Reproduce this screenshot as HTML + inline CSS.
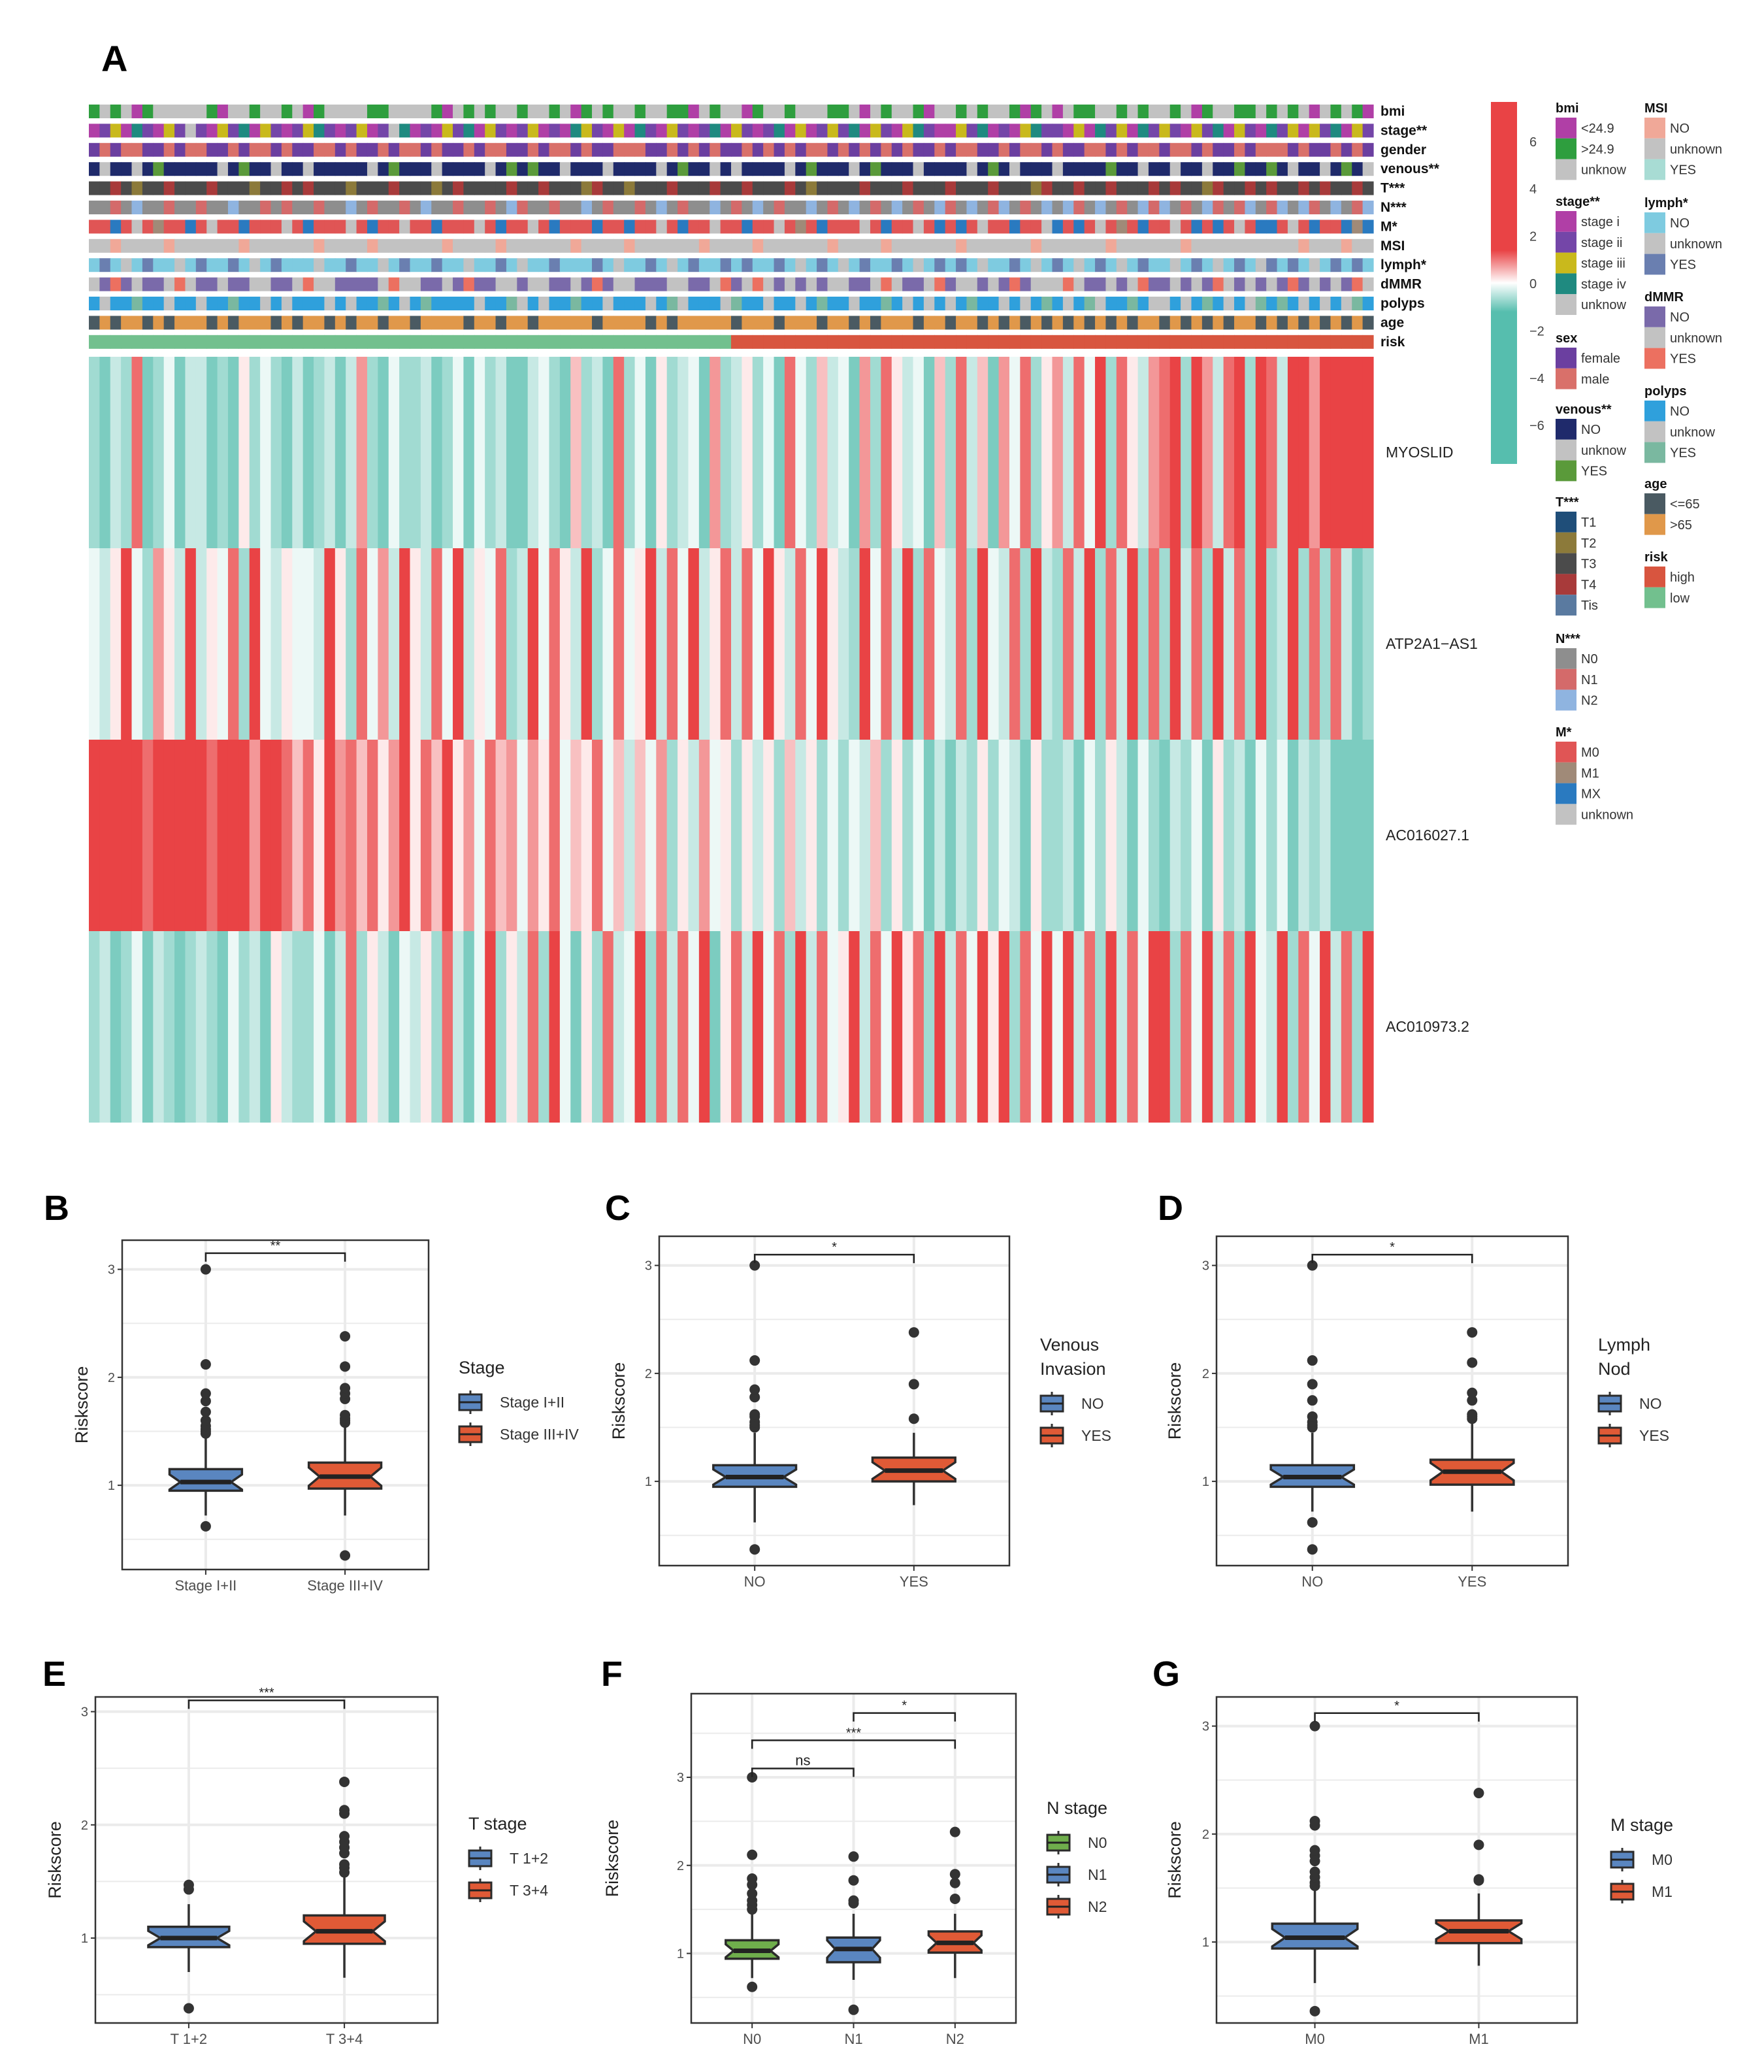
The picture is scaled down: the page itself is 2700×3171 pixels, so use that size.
<!DOCTYPE html>
<html><head><meta charset="utf-8"><title>Risk heatmap and boxplots</title>
<style>
html,body{margin:0;padding:0;background:#fff;}
svg{display:block;font-family:"Liberation Sans",Arial,sans-serif;}
</style></head>
<body>
<svg id="fig" xmlns="http://www.w3.org/2000/svg" width="2700" height="3171" viewBox="0 0 2700 3171">
<rect x="0" y="0" width="2700" height="3171" fill="#fff"/>
<text x="155" y="109" font-size="56" font-weight="bold">A</text>
<g id="heat"></g>
<g id="legend"></g>
<g id="boxes"></g>
</svg>
<script>
// ===== Heatmap data =====
const geneNames = ["MYOSLID","ATP2A1\u2212AS1","AC016027.1","AC010973.2"];
const geneMYOSLID = "2132812413"+"3121524213"+"1231372142"+"2312414231"+"1342162318"+"2415234172"+"3524184263"+"4172853416"+"2836174825"+"7384928537"+"8929738929"+"8399799999";
const geneATP2A1 = "4359427539"+"3548294354"+"4395284739"+"5384935482"+"3948539248"+"4593849358"+"3849538495"+"3294839284"+"3829438293"+"2839283928"+"2938293829"+"2392828312";
const geneAC016027 = "9999989999"+"9899979986"+"8597868579"+"5869574867"+"4758465846"+"3647253745"+"2535263524"+"2436252413"+"1325243152"+"2314253142"+"1324152314"+"2413231111";
const geneAC010973 = "2312413212"+"3214231532"+"2413825314"+"3528314925"+"3829415283"+"4928384915"+"8394829384"+"5938495829"+"3849592849"+"4938293849"+"9284938294"+"3928493829";
const annotNames = ["bmi","stage**","gender","venous**","T***","N***","M*","MSI","lymph*","dMMR","polyps","age","risk"];
const annBmi = "1212012222"+"2102212212"+"0122221122"+"2210212122"+"1221201212"+"2122110212"+"2012212221"+"1202122102"+"2121221012"+"0211221212"+"2120122112"+"1212021210";
const annStage = "0120310214"+"1021302101"+"2310120143"+"0102130210"+"1201032102"+"0310210130"+"2101302012"+"1302102310"+"0213010231"+"1020312031"+"2102130210"+"3120213021";
const annGender = "0101100101"+"1001011010"+"0110100101"+"1010010110"+"0101101001"+"1100101010"+"0101010110"+"1010101001"+"0110010110"+"1001101011"+"0110100101"+"1101001010";
const annVenous = "0100102000"+"0010200100"+"1000001020"+"0010000102"+"0200100010"+"0001020010"+"1000010200"+"0102000100"+"0010201000"+"1000020010"+"0100100200"+"2010010201";
const annT = "2232122322"+"2322212232"+"3222122232"+"2212322223"+"2232221322"+"1222322232"+"2322232122"+"2232223222"+"3222322213"+"2232232223"+"2322132232"+"3223232232";
const annN = "0010200100"+"1002001010"+"0100201001"+"0200100102"+"1001002010"+"0102010020"+"1020100201"+"0201020102"+"1020120102"+"0210201021"+"2010210120"+"1202102012";
const annM = "0020301002"+"0300200030"+"2000302003"+"0020003020"+"0302000200"+"2003020030"+"0200301020"+"0030200302"+"0203002003"+"2020301020"+"0302020302"+"2030200212";
const annMSI = "1101111011"+"1111011111"+"1011110111"+"1110111101"+"1111101111"+"0111111011"+"1101111110"+"1111011111"+"1011111101"+"1111101111"+"1101111111"+"1110111011";
const annLymph = "0201020010"+"2002010200"+"0100200102"+"0020010020"+"1002000201"+"0020102002"+"0200201020"+"1020020102"+"0201002010"+"2010201020"+"0102010201"+"2020102020";
const annDMMR = "1020100121"+"0010011001"+"2110000121"+"1001020011"+"0110010201"+"1000110012"+"0121010101"+"1001210012"+"0110102011"+"1210010120"+"0101021010"+"1020101021";
const annPolyps = "0100200100"+"1002001010"+"0010100201"+"0200001002"+"1010020010"+"0010210001"+"2001001020"+"0100201010"+"1020010102"+"0102100201"+"1010201012"+"0201010120";
const annAge = "0101101011"+"1010111010"+"1101011011"+"0111101101"+"1011111011"+"1101011111"+"0111011101"+"1010111011"+"0110101010"+"1010101011"+"0101010110"+"1010101010";
const annRisk = "1111111111"+"1111111111"+"1111111111"+"1111111111"+"1111111111"+"1111111111"+"0000000000"+"0000000000"+"0000000000"+"0000000000"+"0000000000"+"0000000000";
const colBmi=["#b03fa6","#2e9e3e","#c2c2c2"];
const colStage=["#b03fa6","#7446a8","#c9b91c","#1f8a80","#c2c2c2"];
const colSex=["#6b3fa0","#d9706a"];
const colVenous=["#1f2a6b","#c2c2c2","#5a9a3a"];
const colT=["#1f4e79","#8c7a3a","#4b4b4b","#a83a3a","#5a7aa0"];
const colN=["#8e8e8e","#d46a6a","#8fb4e0"];
const colM=["#e05555","#a08a78","#2a7ac0","#c2c2c2"];
const colMSI=["#f0a898","#c2c2c2","#a8dcd4"];
const colLymph=["#7ecbe0","#c2c2c2","#6a7fb0"];
const colDMMR=["#7a6aaa","#c2c2c2","#ec7060"];
const colPolyps=["#2fa0dc","#c2c2c2","#7ab8a0"];
const colAge=["#4a5a62","#e0984a"];
const colRisk=["#d8553f","#72c08e"];
const colorbarTicks=[6,4,2,0,-2,-4,-6];

const NS="http://www.w3.org/2000/svg";
function mk(tag,attrs,parent){const e=document.createElementNS(NS,tag);for(const k in attrs)e.setAttribute(k,attrs[k]);parent.appendChild(e);return e;}
function lerp(a,b,t){return Math.round(a+(b-a)*t);}
function heatColor(v){ // v in -4.5..4.5
  const red=[233,67,69], teal=[86,190,174], white=[255,255,255];
  let t=Math.min(Math.abs(v)/4.5,1); const c=v>=0?red:teal;
  return "rgb("+lerp(white[0],c[0],t)+","+lerp(white[1],c[1],t)+","+lerp(white[2],c[2],t)+")";
}
const heat=document.getElementById('heat');
const HX0=136,HX1=2102;
const annRows=[annBmi,annStage,annGender,annVenous,annT,annN,annM,annMSI,annLymph,annDMMR,annPolyps,annAge,annRisk];
const annCols=[colBmi,colStage,colSex,colVenous,colT,colN,colM,colMSI,colLymph,colDMMR,colPolyps,colAge,colRisk];
function colX(i,n){return HX0+(HX1-HX0)*i/n;}
annRows.forEach((row,r)=>{
  const y=160+r*29.4, n=row.length;
  const g=mk('g',{},heat);
  
  
  for(let i=0;i<n;i++){
    const x=colX(i,n), w=colX(i+1,n)-x+0.6;
    mk('rect',{x:x,y:y,width:w,height:21,fill:annCols[r][+row[i]]},g);
  }
  const t=mk('text',{x:2113,y:y+17,'font-size':21,'font-weight':'bold',fill:'#111'},heat);
  t.textContent=annotNames[r];
  
  
});
const genes=[geneMYOSLID,geneATP2A1,geneAC016027,geneAC010973];
genes.forEach((row,r)=>{
  const y=546+r*293, n=row.length;
  const g=mk('g',{},heat);
  
  
  for(let i=0;i<n;i++){
    const x=colX(i,n), w=colX(i+1,n)-x+0.6;
    const v=(+row[i]-4.5);
    const rc=mk('rect',{x:x,y:y,width:w,height:293,fill:heatColor(v)},g);
    
    
  }
  const t=mk('text',{x:2121,y:y+154,'font-size':23,fill:'#222'},heat);
  t.textContent=geneNames[r];
  
  
});

// ===== Legend =====
const lg=document.getElementById('legend');
const defs=mk('defs',{},lg);
const gr=mk('linearGradient',{id:'cbg',x1:0,y1:0,x2:0,y2:1},defs);
[[0,'#e94345'],[0.41,'#e94345'],[0.5,'#ffffff'],[0.58,'#56beae'],[1,'#56beae']].forEach(s=>mk('stop',{offset:s[0],'stop-color':s[1]},gr));
const cb=mk('rect',{x:2282,y:156,width:40,height:554,fill:'url(#cbg)'},lg);


colorbarTicks.forEach(v=>{
  const t=mk('text',{x:2341,y:434-v*36.2+7,'font-size':20,fill:'#444'},lg);
  t.textContent=(v<0?'\u2212':'')+Math.abs(v);
  
  
});
const legCol1=[["bmi",164,["<24.9",">24.9","unknow"],colBmi],["stage**",307,["stage i","stage ii","stage iii","stage iv","unknow"],colStage],["sex",516,["female","male"],colSex],["venous**",625,["NO","unknow","YES"],colVenous],["T***",767,["T1","T2","T3","T4","Tis"],colT],["N***",976,["N0","N1","N2"],colN],["M*",1119,["M0","M1","MX","unknown"],colM]];
const legCol2=[["MSI",164,["NO","unknown","YES"],colMSI],["lymph*",309,["NO","unknown","YES"],colLymph],["dMMR",453,["NO","unknown","YES"],colDMMR],["polyps",597,["NO","unknow","YES"],colPolyps],["age",739,["<=65",">65"],colAge],["risk",851,["high","low"],colRisk]];
function drawLeg(list,x){
  list.forEach(L=>{
    const g=mk('g',{},lg);
    
    
    const t=mk('text',{x:x,y:L[1]+8,'font-size':20,'font-weight':'bold',fill:'#111'},g);
    t.textContent=L[0];
    L[2].forEach((lab,i)=>{
      const y=L[1]+16+i*31.8;
      mk('rect',{x:x,y:y,width:32,height:31.8,fill:L[3][i]},g);
      const tt=mk('text',{x:x+39,y:y+23,'font-size':20,fill:'#333'},g);
      tt.textContent=lab;
    });
  });
}
drawLeg(legCol1,2381); drawLeg(legCol2,2517);

// ===== Boxplot data =====
const bCats=["Stage I+II","Stage III+IV"], bLow=[0.72,0.72], bQ1=[0.95,0.97], bMed=[1.03,1.08], bQ3=[1.15,1.21], bHigh=[1.45,1.55];
const bOut=[[0.62,1.48,1.5,1.52,1.55,1.6,1.68,1.78,1.85,2.12,3.0],[0.35,1.58,1.6,1.62,1.65,1.8,1.85,1.9,2.1,2.38]];
const cCats=["NO","YES"], cLow=[0.62,0.78], cQ1=[0.95,1.0], cMed=[1.04,1.1], cQ3=[1.15,1.22], cHigh=[1.45,1.45];
const cOut=[[0.37,1.5,1.52,1.55,1.6,1.62,1.78,1.85,2.12,3.0],[1.58,1.9,2.38]];
const dCats=["NO","YES"], dLow=[0.72,0.72], dQ1=[0.95,0.97], dMed=[1.04,1.09], dQ3=[1.15,1.2], dHigh=[1.45,1.55];
const dOut=[[0.37,0.62,1.5,1.52,1.55,1.6,1.75,1.9,2.12,3.0],[1.58,1.6,1.62,1.75,1.82,2.1,2.38]];
const eCats=["T 1+2","T 3+4"], eLow=[0.7,0.65], eQ1=[0.92,0.95], eMed=[1.0,1.06], eQ3=[1.1,1.2], eHigh=[1.3,1.55];
const eOut=[[0.38,1.43,1.47],[1.58,1.62,1.65,1.75,1.8,1.85,1.9,2.1,2.13,2.38]];
const fCats=["N0","N1","N2"], fLow=[0.72,0.7,0.72], fQ1=[0.94,0.9,1.01], fMed=[1.03,1.05,1.12], fQ3=[1.15,1.18,1.25], fHigh=[1.45,1.45,1.45];
const fOut=[[0.62,1.5,1.55,1.6,1.68,1.78,1.85,2.12,3.0],[0.36,1.57,1.6,1.83,2.1],[1.62,1.8,1.9,2.38]];
const gCats=["M0","M1"], gLow=[0.62,0.78], gQ1=[0.94,0.99], gMed=[1.04,1.1], gQ3=[1.17,1.2], gHigh=[1.5,1.45];
const gOut=[[0.36,1.52,1.55,1.6,1.65,1.75,1.8,1.85,2.08,2.12,3.0],[1.57,1.58,1.9,2.38]];
const bSig=[[0,1,3.15,"**"]], cSig=[[0,1,3.1,"*"]], dSig=[[0,1,3.1,"*"]], eSig=[[0,1,3.1,"***"]];
const fSig=[[0,1,3.1,"ns"],[0,2,3.42,"***"],[1,2,3.73,"*"]], gSig=[[0,1,3.12,"*"]];

const BLUE="#5a86c0", RED="#e05a36", GREEN="#6fae4c";
const panels=[
 {id:'b',letter:'B',lx:67,ly:1845,fr:[187,1898,656,2402],dom:[0.22,3.27],ticks:[1,2,3],cats:bCats,low:bLow,q1:bQ1,med:bMed,q3:bQ3,high:bHigh,out:bOut,sig:bSig,cols:[BLUE,RED],legT:["Stage"],legX:702,legY:2093,titleX:134},
 {id:'c',letter:'C',lx:926,ly:1845,fr:[1009,1892,1545,2396],dom:[0.22,3.27],ticks:[1,2,3],cats:cCats,low:cLow,q1:cQ1,med:cMed,q3:cQ3,high:cHigh,out:cOut,sig:cSig,cols:[BLUE,RED],legT:["Venous","Invasion"],legX:1592,legY:2058,titleX:956},
 {id:'d',letter:'D',lx:1772,ly:1845,fr:[1862,1892,2400,2396],dom:[0.22,3.27],ticks:[1,2,3],cats:dCats,low:dLow,q1:dQ1,med:dMed,q3:dQ3,high:dHigh,out:dOut,sig:dSig,cols:[BLUE,RED],legT:["Lymph","Nod"],legX:2446,legY:2058,titleX:1807},
 {id:'e',letter:'E',lx:65,ly:2558,fr:[146,2597,670,3096],dom:[0.25,3.13],ticks:[1,2,3],cats:eCats,low:eLow,q1:eQ1,med:eMed,q3:eQ3,high:eHigh,out:eOut,sig:eSig,cols:[BLUE,RED],legT:["T stage"],legX:717,legY:2791,titleX:93},
 {id:'f',letter:'F',lx:920,ly:2558,fr:[1058,2592,1555,3096],dom:[0.21,3.95],ticks:[1,2,3],cats:fCats,low:fLow,q1:fQ1,med:fMed,q3:fQ3,high:fHigh,out:fOut,sig:fSig,cols:[GREEN,BLUE,RED],legT:["N stage"],legX:1602,legY:2767,titleX:946},
 {id:'g',letter:'G',lx:1764,ly:2558,fr:[1862,2597,2414,3096],dom:[0.25,3.27],ticks:[1,2,3],cats:gCats,low:gLow,q1:gQ1,med:gMed,q3:gQ3,high:gHigh,out:gOut,sig:gSig,cols:[BLUE,RED],legT:["M stage"],legX:2465,legY:2793,titleX:1807}
];
const boxes=document.getElementById('boxes');
panels.forEach(P=>{
  const g=mk('g',{},boxes);
  
  
  const [x0,y0,x1,y1]=P.fr, n=P.cats.length;
  const yS=v=>y1-(v-P.dom[0])/(P.dom[1]-P.dom[0])*(y1-y0);
  const unitX=(x1-x0)/(n+0.2);
  const xS=i=>x0+unitX*(0.6+i);
  const lab=mk('text',{x:P.lx,y:P.ly+22,'font-size':54,'font-weight':'bold',fill:'#000'},g);
  lab.textContent=P.letter;
  
  
  for(let v=0.5;v<P.dom[1];v+=0.5){
    if(v<P.dom[0])continue;
    const major=Math.abs(v-Math.round(v))<1e-6;
    mk('line',{x1:x0,x2:x1,y1:yS(v),y2:yS(v),stroke:'#ebebeb','stroke-width':major?4:2},g);
  }
  P.cats.forEach((c,i)=>mk('line',{x1:xS(i),x2:xS(i),y1:y0,y2:y1,stroke:'#ebebeb','stroke-width':4},g));
  const fr=mk('rect',{x:x0,y:y0,width:x1-x0,height:y1-y0,fill:'none',stroke:'#333','stroke-width':2.5},g);
  
  
  P.ticks.forEach(v=>{
    mk('line',{x1:x0-7,x2:x0,y1:yS(v),y2:yS(v),stroke:'#333','stroke-width':2},g);
    const t=mk('text',{x:x0-11,y:yS(v)+7,'font-size':20,fill:'#4d4d4d','text-anchor':'end'},g);
    t.textContent=v;
    
    
  });
  const yt=mk('text',{x:P.titleX,y:(y0+y1)/2,'font-size':27,fill:'#222','text-anchor':'middle',transform:'rotate(-90 '+P.titleX+' '+((y0+y1)/2)+')'},g);
  yt.textContent='Riskscore';
  
  
  const bw=unitX*0.52;
  P.cats.forEach((c,i)=>{
    const cx=xS(i);
    mk('line',{x1:cx,x2:cx,y1:y1,y2:y1+8,stroke:'#333','stroke-width':2},g);
    const xt=mk('text',{x:cx,y:y1+32,'font-size':22,fill:'#4d4d4d','text-anchor':'middle'},g);
    xt.textContent=c;
    
    
    const wl=mk('line',{x1:cx,x2:cx,y1:yS(P.low[i]),y2:yS(P.high[i]),stroke:'#333','stroke-width':3.5},g);
    
    
    const iqr=P.q3[i]-P.q1[i], nh=iqr*0.35, hw=bw/2, ins=hw*0.3;
    const pts=[[cx-hw,yS(P.q3[i])],[cx+hw,yS(P.q3[i])],[cx+hw,yS(P.med[i]+nh)],[cx+hw-ins,yS(P.med[i])],[cx+hw,yS(P.med[i]-nh)],[cx+hw,yS(P.q1[i])],[cx-hw,yS(P.q1[i])],[cx-hw,yS(P.med[i]-nh)],[cx-hw+ins,yS(P.med[i])],[cx-hw,yS(P.med[i]+nh)]];
    const bx=mk('polygon',{points:pts.map(p=>p.join(',')).join(' '),fill:P.cols[i],stroke:'#2b2b2b','stroke-width':3.5},g);
    
    
    const md=mk('line',{x1:cx-hw+ins,x2:cx+hw-ins,y1:yS(P.med[i]),y2:yS(P.med[i]),stroke:'#222','stroke-width':7},g);
    
    
    P.out[i].forEach(v=>{
      const o=mk('circle',{cx:cx,cy:yS(v),r:8,fill:'#333'},g);
      
      
    });
  });
  P.sig.forEach(s=>{
    const ya=yS(s[2]), xa=xS(s[0]), xb=xS(s[1]);
    const br=mk('path',{d:'M'+xa+' '+(ya+13)+'V'+ya+'H'+xb+'V'+(ya+13),fill:'none',stroke:'#222','stroke-width':2.5},g);
    
    
    const st=mk('text',{x:(xa+xb)/2,y:ya-5,'font-size':s[3]==='ns'?22:20,fill:'#222','text-anchor':'middle'},g);
    st.textContent=s[3];
    
    
  });
  const lgG=mk('g',{},g);
  
  
  P.legT.forEach((t,k)=>{
    const tt=mk('text',{x:P.legX,y:P.legY+9+k*37,'font-size':27,fill:'#222'},lgG);
    tt.textContent=t;
  });
  const ky0=P.legY+(P.legT.length-1)*37+53;
  P.cats.forEach((c,i)=>{
    const ky=ky0+i*49, kx=P.legX+18;
    mk('line',{x1:kx,x2:kx,y1:ky-18,y2:ky+18,stroke:'#333','stroke-width':3},lgG);
    mk('rect',{x:kx-17,y:ky-12,width:34,height:24,fill:P.cols[i],stroke:'#2b2b2b','stroke-width':3},lgG);
    mk('line',{x1:kx-17,x2:kx+17,y1:ky,y2:ky,stroke:'#222','stroke-width':3},lgG);
    const lt=mk('text',{x:P.legX+63,y:ky+8,'font-size':23,fill:'#333'},lgG);
    lt.textContent=c;
    
    
  });
});
</script>
</body></html>
